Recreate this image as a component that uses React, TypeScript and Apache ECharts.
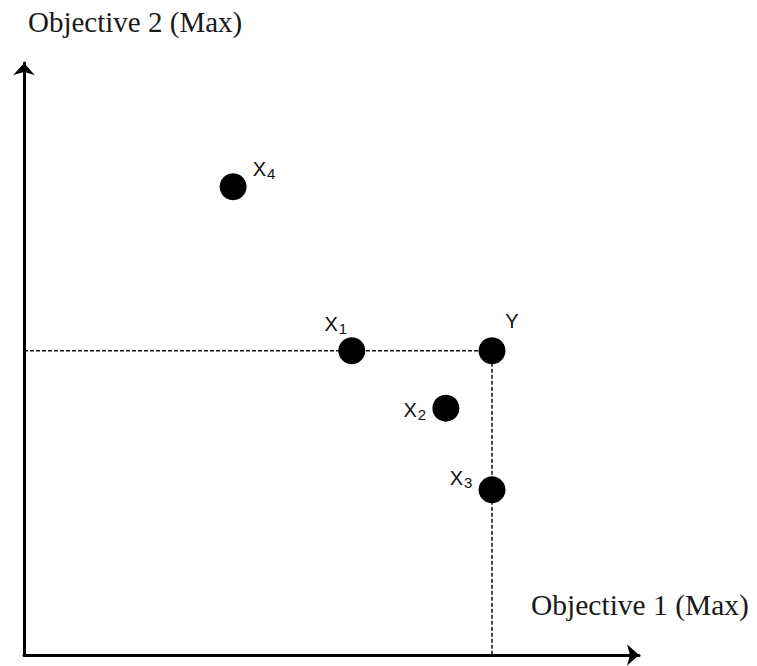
import React, { useEffect, useRef } from "react";
import * as echarts from "echarts";

// Point names, subscripts and coordinates (in axis units 0..100)
const pointNames = ["X4", "X1", "Y", "X2", "X3"];
const pointMain = ["X", "X", "Y", "X", "X"];
const pointSub = ["4", "1", "", "2", "3"];
const pointX = [34.0, 53.3, 76.1, 68.6, 76.1];
const pointY = [79.1, 51.4, 51.4, 41.7, 27.9];
const labelOffsets = [
  [31, -18],
  [-16, -27],
  [20, -30],
  [-31, 2],
  [-31, -12],
];
const axisTitleX = "Objective 1 (Max)";
const axisTitleY = "Objective 2 (Max)";
const refIndex = 2; // Y point: dashed guides start here

export default function App() {
  const ref = useRef<HTMLDivElement>(null);
  useEffect(() => {
    if (!ref.current) return;
    const chart = echarts.init(ref.current, null, { renderer: "svg" });
    const sans = "'Liberation Sans', Arial, sans-serif";
    const serif = "'Liberation Serif', 'Times New Roman', serif";
    const scatterData = pointNames.map((n, i) => ({
      name: n,
      value: [pointX[i], pointY[i]],
      label: {
        show: true,
        position: "inside",
        offset: labelOffsets[i],
        formatter: pointSub[i] ? `{m|${pointMain[i]}}{s|${pointSub[i]}}` : `{m|${pointMain[i]}}`,
      },
    }));
    const rx = pointX[refIndex];
    const ry = pointY[refIndex];
    chart.setOption({
      animation: false,
      backgroundColor: "#ffffff",
      grid: { left: 24, right: 118, top: 63, bottom: 11, containLabel: false },
      xAxis: {
        type: "value",
        min: 0,
        max: 100,
        axisLine: {
          show: true,
          symbol: ["none", "arrow"],
          symbolSize: [16, 12],
          lineStyle: { color: "#000", width: 3 },
        },
        axisTick: { show: false },
        axisLabel: { show: false },
        splitLine: { show: false },
      },
      yAxis: {
        type: "value",
        min: 0,
        max: 100,
        axisLine: {
          show: true,
          symbol: ["none", "arrow"],
          symbolSize: [16, 12],
          lineStyle: { color: "#000", width: 3 },
        },
        axisTick: { show: false },
        axisLabel: { show: false },
        splitLine: { show: false },
      },
      series: [
        {
          type: "line",
          data: [
            [0, ry],
            [rx, ry],
            [rx, 0],
          ],
          symbol: "none",
          lineStyle: { color: "#111", width: 1.5, type: [4, 2] },
          z: 1,
          silent: true,
        },
        {
          type: "scatter",
          symbol: "circle",
          symbolSize: 27,
          itemStyle: { color: "#000", opacity: 1 },
          data: scatterData,
          z: 3,
          label: {
            color: "#111",
            rich: {
              m: { fontSize: 20, fontFamily: sans, color: "#111" },
              s: { fontSize: 15, fontFamily: sans, color: "#111", padding: [9, 0, 0, 1] },
            },
          },
        },
      ],
      graphic: [
        {
          type: "text",
          left: 28,
          top: 7,
          style: { text: axisTitleY, font: `29px ${serif}`, fill: "#1a1a1a" },
        },
        {
          type: "text",
          left: 531,
          top: 590,
          style: { text: axisTitleX, font: `29.5px ${serif}`, fill: "#1a1a1a" },
        },
      ],
    });
    return () => chart.dispose();
  }, []);
  return (
    <div
      ref={ref}
      style={{ position: "fixed", left: 0, top: 0, width: 757, height: 666, background: "#fff" }}
    />
  );
}
